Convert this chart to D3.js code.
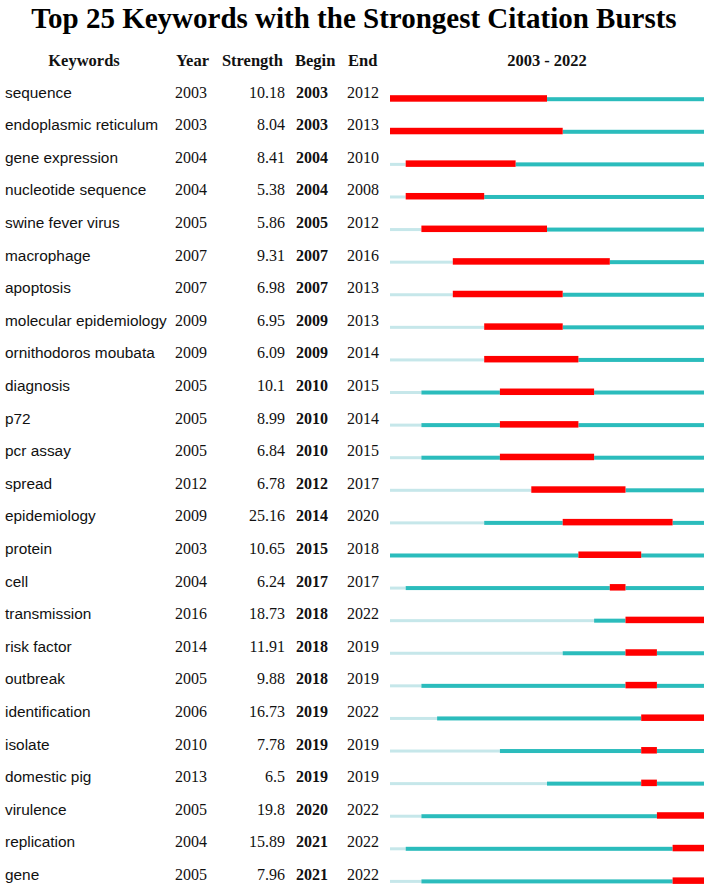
<!DOCTYPE html>
<html><head><meta charset="utf-8">
<script src="https://cdn.jsdelivr.net/npm/d3@7"></script>
<style>body{margin:0;background:#fff;}svg{display:block;}</style>
</head><body>
<script>
const keywords = ["sequence","endoplasmic reticulum","gene expression","nucleotide sequence","swine fever virus","macrophage","apoptosis","molecular epidemiology","ornithodoros moubata","diagnosis","p72","pcr assay","spread","epidemiology","protein","cell","transmission","risk factor","outbreak","identification","isolate","domestic pig","virulence","replication","gene"];
const years = [2003,2003,2004,2004,2005,2007,2007,2009,2009,2005,2005,2005,2012,2009,2003,2004,2016,2014,2005,2006,2010,2013,2005,2004,2005];
const strengths = ["10.18","8.04","8.41","5.38","5.86","9.31","6.98","6.95","6.09","10.1","8.99","6.84","6.78","25.16","10.65","6.24","18.73","11.91","9.88","16.73","7.78","6.5","19.8","15.89","7.96"];
const begins = [2003,2003,2004,2004,2005,2007,2007,2009,2009,2010,2010,2010,2012,2014,2015,2017,2018,2018,2018,2019,2019,2019,2020,2021,2021];
const ends = [2012,2013,2010,2008,2012,2016,2013,2013,2014,2015,2014,2015,2017,2020,2018,2017,2022,2019,2019,2022,2019,2019,2022,2022,2022];
const periodStart = 2003, periodEnd = 2022;
const headers = ["Keywords","Year","Strength","Begin","End"];

const W = 708, H = 888;
const svg = d3.select("body").append("svg").attr("width", W).attr("height", H);

const x = d3.scaleLinear().domain([periodStart, periodEnd + 1]).range([390, 704]);
const y = d3.scaleLinear().domain([0, keywords.length - 1]).range([98.7, 880.9]);

const serif = "'Liberation Serif','Times New Roman',serif";
const sans = "'Liberation Sans',Arial,sans-serif";

svg.append("text").attr("x", 354).attr("y", 28).attr("text-anchor", "middle")
  .attr("font-family", serif).attr("font-weight", "bold").attr("font-size", 29)
  .text("Top 25 Keywords with the Strongest Citation Bursts");

const hy = 66;
const hdr = svg.append("g").attr("font-family", serif).attr("font-weight", "bold").attr("font-size", 16.5).attr("fill", "#111");
hdr.append("text").attr("x", 84).attr("y", hy).attr("text-anchor", "middle").text(headers[0]);
hdr.append("text").attr("x", 176).attr("y", hy).text(headers[1]);
hdr.append("text").attr("x", 283).attr("y", hy).attr("text-anchor", "end").text(headers[2]);
hdr.append("text").attr("x", 295).attr("y", hy).text(headers[3]);
hdr.append("text").attr("x", 348).attr("y", hy).text(headers[4]);
hdr.append("text").attr("x", (x.range()[0] + x.range()[1]) / 2).attr("y", hy).attr("text-anchor", "middle")
  .text(periodStart + " - " + periodEnd);

const rows = svg.selectAll("g.row").data(keywords.map((k, i) => i)).join("g").attr("class", "row")
  .attr("transform", i => `translate(0,${y(i)})`);

rows.append("text").attr("x", 5).attr("y", -1).attr("font-family", sans).attr("font-size", 15.4).attr("fill", "#111")
  .text(i => keywords[i]);
rows.append("text").attr("x", 175).attr("y", -1).attr("font-family", serif).attr("font-size", 16).attr("fill", "#111")
  .text(i => years[i]);
rows.append("text").attr("x", 285).attr("y", -1).attr("text-anchor", "end").attr("font-family", serif).attr("font-size", 16).attr("fill", "#111")
  .text(i => strengths[i]);
rows.append("text").attr("x", 296).attr("y", -1).attr("font-family", serif).attr("font-weight", "bold").attr("font-size", 16).attr("fill", "#111")
  .text(i => begins[i]);
rows.append("text").attr("x", 347).attr("y", -1).attr("font-family", serif).attr("font-size", 16).attr("fill", "#111")
  .text(i => ends[i]);

const style = {
  light: {y: -1, h: 3, fill: "#c6e7ea"},
  active: {y: -1.5, h: 4, fill: "#2bbcbc"},
  burst: {y: -3.5, h: 6.5, fill: "#ff0000"}
};
rows.each(function(i) {
  const g = d3.select(this);
  const segs = [];
  if (years[i] > periodStart) segs.push({from: periodStart, to: years[i], type: "light"});
  if (begins[i] > years[i]) segs.push({from: years[i], to: begins[i], type: "active"});
  if (ends[i] < periodEnd) segs.push({from: ends[i] + 1, to: periodEnd + 1, type: "active"});
  segs.push({from: begins[i], to: ends[i] + 1, type: "burst"});
  g.selectAll("rect").data(segs).join("rect")
    .attr("x", d => x(d.from))
    .attr("width", d => x(d.to) - x(d.from))
    .attr("y", d => style[d.type].y)
    .attr("height", d => style[d.type].h)
    .attr("fill", d => style[d.type].fill);
});
</script>
</body></html>
